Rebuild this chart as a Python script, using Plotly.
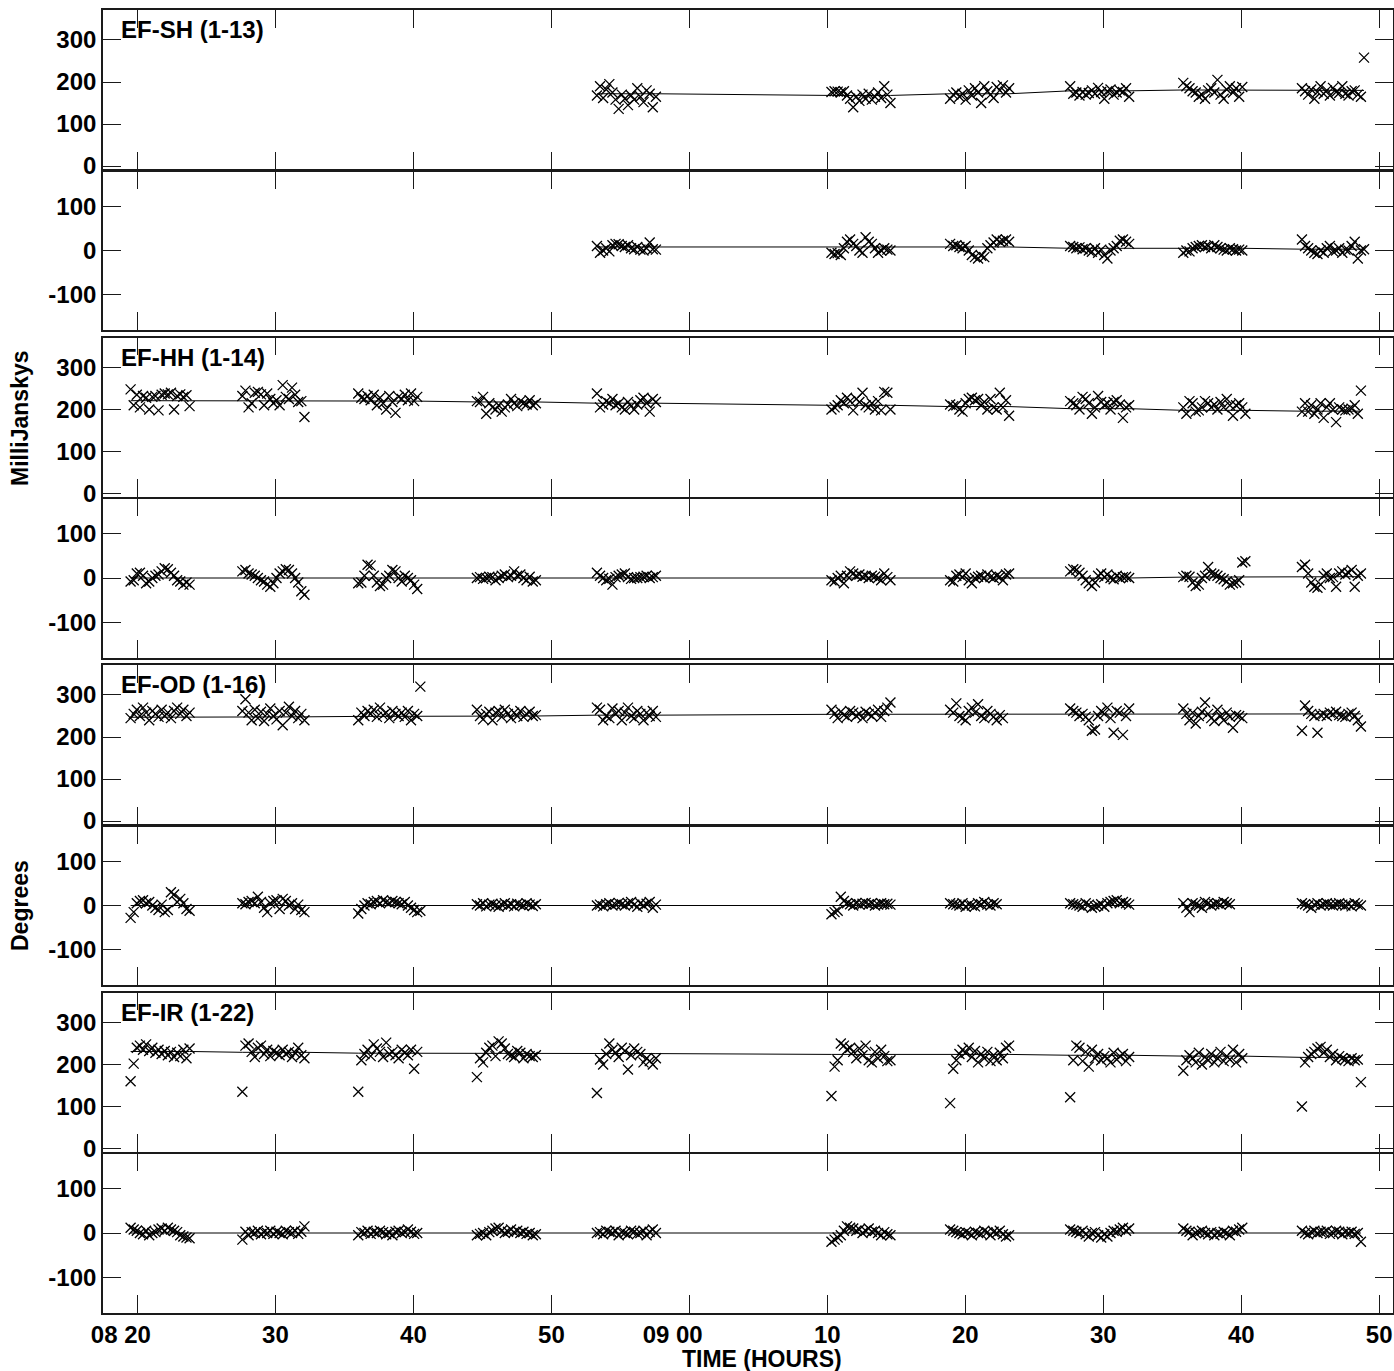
import plotly.graph_objects as go

# ---------------- data ----------------
SCAN_START = [19.5, 27.6, 36.0, 44.6, 53.3, 70.3, 78.9, 87.6, 95.8, 104.4]  # minutes after 08:00
INTEG_MIN = 0.225  # integration time (minutes)

BASELINES = ["EF-SH (1-13)", "EF-HH (1-14)", "EF-OD (1-16)", "EF-IR (1-22)"]

X_TICKS = [20, 30, 40, 50, 60, 70, 80, 90, 100, 110]
X_TICKTEXT = ["08 20", "30", "40", "50", "09 00", "10", "20", "30", "40", "50"]
AMP_TICKS = [0, 100, 200, 300]
AMP_TICKTEXT = ["0", "100", "200", "300"]
PHASE_TICKS = [-100, 0, 100]
PHASE_TICKTEXT = ["-100", "0", "100"]

sh_amp = [[], [], [], [],
    [168, 190, 162, 182, 195, 175, 158, 136, 170, 160, 145, 168, 158, 185, 165, 152, 180, 172, 140, 165],
    [176, 178, 177, 175, 178, 168, 160, 140, 165, 155, 170, 160, 172, 158, 165, 175, 162, 190, 170, 150],
    [160, 170, 175, 165, 172, 158, 180, 168, 185, 175, 150, 190, 178, 170, 162, 188, 180, 192, 175, 185],
    [190, 172, 175, 168, 176, 170, 174, 180, 172, 186, 176, 160, 178, 182, 170, 175, 180, 176, 185, 165],
    [198, 190, 185, 178, 175, 165, 170, 160, 180, 185, 175, 205, 170, 160, 182, 190, 175, 185, 165, 188],
    [185, 178, 170, 182, 160, 176, 190, 172, 180, 168, 186, 176, 174, 190, 172, 168, 178, 180, 170, 165, 258]]
sh_phase = [[], [], [], [],
    [10, -5, 0, 5, -2, 12, 15, 14, 10, 8, 12, 5, 3, 8, 2, 0, 5, 18, 3, 2],
    [-5, -8, -6, -10, 5, 20, 25, 15, 10, 0, -5, 30, 20, 15, 5, -5, 0, 5, 2, 0],
    [15, 10, 12, 8, 5, 10, 0, -10, -15, -18, -12, -15, 5, 12, 18, 25, 20, 22, 25, 20],
    [10, 8, 5, 7, 3, 5, 0, -3, 5, -5, 2, -10, -18, 0, 5, 10, 22, 25, 20, 15],
    [-5, 0, -2, 5, 8, 10, 12, 8, 10, 5, 12, 8, 5, 2, 0, 5, 3, 0, 2, 0],
    [25, 10, 5, 0, -5, -8, 0, -5, 5, 10, -2, 0, 5, -5, 2, 0, 10, 20, -18, 0, 3]]
sh_amp_model = [None, None, None, None, 172, 168, 172, 179, 181, 180]
sh_phase_model = [None, None, None, None, 8, 8, 8, 5, 5, 3]

hh_amp = [
    [248, 210, 235, 205, 232, 228, 200, 230, 232, 198, 235, 238, 236, 240, 200, 232, 236, 230, 234, 208],
    [232, 245, 205, 215, 240, 242, 236, 210, 238, 225, 215, 222, 210, 258, 230, 225, 252, 235, 218, 220, 182],
    [238, 228, 225, 232, 222, 235, 210, 228, 215, 200, 232, 218, 192, 230, 225, 235, 222, 238, 220, 230],
    [220, 218, 230, 190, 215, 205, 200, 210, 195, 205, 212, 225, 215, 208, 220, 215, 212, 222, 210, 215],
    [238, 205, 212, 220, 215, 225, 210, 215, 205, 200, 218, 208, 200, 212, 222, 228, 215, 195, 225, 218],
    [200, 205, 210, 222, 215, 228, 220, 198, 225, 218, 240, 210, 205, 215, 200, 220, 198, 242, 240, 200],
    [212, 208, 210, 200, 195, 215, 225, 228, 222, 225, 210, 218, 200, 225, 205, 200, 240, 205, 222, 185],
    [220, 215, 210, 200, 230, 225, 215, 190, 205, 232, 218, 210, 215, 200, 218, 222, 212, 180, 205, 210],
    [205, 190, 220, 215, 195, 198, 205, 220, 215, 205, 212, 200, 218, 205, 225, 210, 185, 210, 215, 205, 190],
    [195, 215, 195, 210, 190, 200, 215, 180, 205, 215, 200, 170, 205, 200, 198, 200, 202, 210, 190, 245]]
hh_phase = [
    [-8, -5, 10, 12, 5, -12, -8, 0, 5, 8, 15, 22, 20, 12, 5, -5, -8, -15, -10, -15],
    [15, 18, 10, 8, 5, 0, -5, -8, -15, -20, -12, 0, 10, 15, 20, 18, 10, 0, -10, -30, -38],
    [-12, -10, 5, 30, 28, 5, -10, -18, -15, 0, 5, 18, 15, 0, -8, 5, 0, -5, -15, -25],
    [0, 2, -2, 0, 3, 2, -5, 0, 5, 8, 2, 5, 15, 5, 8, 0, -5, 3, -8, -5],
    [12, 5, 0, -5, -2, -15, 2, 5, 8, 10, 2, -2, 0, 0, 2, 3, 5, 0, 2, 5],
    [-5, -8, 0, 5, -12, 5, 15, 10, 5, 8, 3, 5, 0, 5, 3, 0, -5, 10, 2, -5],
    [-5, -8, 5, 8, 2, 10, -5, -12, 0, 3, 5, 0, 8, 2, 0, 5, 3, -5, 8, 10],
    [15, 20, 18, 12, 5, -5, -12, -18, -10, 5, 10, 2, 8, 0, -3, 5, 0, 2, 3, 0],
    [2, 5, 3, -10, -18, -15, 0, 5, 25, 10, 8, 5, 0, -3, -8, -15, -12, -10, -5, 35, 38],
    [25, 30, 10, -10, -20, -22, -15, 5, 10, 0, 2, -20, 10, 15, 8, 12, 18, -20, 5, 10]]
hh_amp_model = [221, 221, 220, 218, 215, 210, 207, 202, 198, 196]
hh_phase_model = [0, 0, 0, 0, 0, 0, 0, 0, 2, 3]

od_amp = [
    [245, 255, 265, 250, 270, 258, 240, 262, 255, 248, 265, 250, 258, 245, 262, 270, 255, 265, 250, 258],
    [262, 290, 258, 240, 265, 245, 260, 238, 255, 268, 250, 242, 262, 228, 258, 272, 250, 262, 245, 255, 240],
    [240, 258, 250, 262, 255, 265, 248, 270, 252, 258, 245, 262, 255, 250, 258, 248, 262, 240, 255, 250, 320],
    [265, 250, 242, 255, 260, 240, 258, 262, 248, 265, 255, 245, 258, 250, 262, 248, 255, 260, 250, 252],
    [270, 265, 240, 250, 245, 268, 255, 262, 240, 258, 270, 250, 245, 262, 255, 240, 258, 250, 262, 248],
    [265, 255, 245, 260, 252, 248, 262, 258, 250, 255, 245, 260, 255, 250, 258, 265, 248, 262, 270, 282],
    [265, 258, 280, 250, 245, 240, 262, 270, 258, 278, 250, 245, 262, 255, 248, 240, 252, 245],
    [268, 262, 258, 250, 255, 248, 240, 215, 218, 250, 262, 255, 270, 245, 210, 262, 258, 205, 250, 268],
    [268, 255, 240, 258, 232, 250, 260, 282, 255, 245, 238, 265, 250, 240, 258, 248, 222, 252, 250, 245],
    [215, 275, 262, 255, 250, 210, 252, 255, 250, 258, 255, 260, 252, 250, 248, 255, 258, 250, 240, 225]]
od_phase = [
    [-28, -15, 5, 10, 12, 5, 8, 0, -5, -10, 2, -15, -10, 30, 25, 8, 15, 5, -8, -12],
    [5, 3, 8, 10, 5, 20, 8, -5, -15, 5, 10, 12, -8, 15, 10, 0, 5, -8, 2, -10, -15],
    [-18, -8, 0, 5, 3, 8, 10, 5, 12, 8, 6, 10, 8, 5, 3, 8, 0, -5, -10, -15, -12],
    [3, 0, 5, -2, 2, 4, 0, -3, 2, 5, 0, 3, -2, 4, 1, 0, 5, 2, -1, 3],
    [0, 2, -2, 3, 5, 0, 2, 6, 3, 0, 5, 8, 2, -3, 5, 0, 4, 8, -5, 2],
    [-20, -15, -12, 20, 10, 5, 3, 0, 5, 2, 4, 6, 3, 5, 0, 2, 5, 3, 4, 2],
    [5, 3, 2, 0, 5, -3, 2, 0, -2, 5, 3, 8, 2, 0, 5, 3],
    [5, 3, 2, 0, -3, 5, 2, -5, -2, 0, 3, -3, 5, 8, 10, 12, 5, 8, 5, 2],
    [5, -5, -15, 5, 3, 0, -5, 8, 5, 0, 3, 5, 2, 8, 5, 3],
    [5, 3, 0, -5, 2, 5, 0, 3, 5, 2, 0, 3, 5, 2, 0, 3, -2, 5, 2, 0]]
od_amp_model = [247, 248, 249, 250, 252, 254, 254, 255, 255, 255]
od_phase_model = [0, 0, 0, 0, 0, 0, 0, 0, 0, 0]

ir_amp = [
    [160, 202, 240, 245, 235, 248, 232, 240, 228, 235, 225, 232, 222, 230, 218, 228, 220, 235, 215, 238],
    [135, 245, 250, 230, 218, 240, 245, 225, 235, 220, 232, 228, 222, 235, 225, 230, 218, 228, 240, 222, 215],
    [135, 210, 225, 235, 220, 248, 238, 230, 218, 252, 225, 230, 222, 215, 235, 228, 222, 235, 190, 230],
    [170, 215, 205, 228, 240, 245, 220, 255, 250, 238, 225, 222, 218, 232, 228, 215, 225, 220, 218, 222],
    [132, 212, 200, 225, 250, 235, 228, 218, 240, 232, 188, 222, 238, 230, 225, 205, 215, 208, 200, 215],
    [125, 195, 210, 250, 245, 235, 240, 230, 215, 238, 222, 245, 210, 205, 230, 215, 235, 220, 208, 210],
    [108, 190, 210, 225, 235, 228, 240, 218, 232, 205, 225, 215, 230, 208, 222, 210, 228, 215, 240, 245],
    [122, 210, 245, 240, 208, 230, 195, 235, 215, 225, 210, 220, 215, 205, 228, 212, 220, 225, 208, 218],
    [185, 210, 222, 215, 205, 228, 200, 218, 210, 225, 205, 215, 230, 208, 220, 212, 235, 205, 225, 215],
    [100, 205, 218, 225, 230, 238, 242, 228, 235, 218, 225, 210, 220, 215, 212, 208, 215, 210, 212, 158]]
ir_phase = [
    [12, 8, 5, 0, -3, 5, -5, 0, 2, 8, 10, 5, 12, 8, 5, 2, -5, -8, -10, -12],
    [-15, 3, -5, 2, 0, 5, -3, 2, 0, 5, -2, 3, 0, -3, 5, 2, 0, 5, -2, 3, 15],
    [-5, 2, 0, 5, -2, 3, 0, 5, 2, -3, 0, -5, 3, 5, 0, 2, 8, 3, -2, 0],
    [-5, -2, 0, -5, 2, 5, 10, 12, 5, 0, 3, 8, 2, 5, 0, 3, -2, 0, -5, -3],
    [0, 2, -3, 5, 3, 0, 5, -5, 2, 0, -3, 5, 3, -2, 0, 5, -5, 3, 8, 0],
    [-20, -15, -10, -5, 5, 15, 12, 10, 5, 8, 0, 5, 10, 3, 5, 0, -5, 2, -3, -5],
    [8, 5, 2, 0, -3, 2, 0, -5, 3, 0, -2, 5, 2, -5, 3, 0, 5, -3, -8, -5],
    [8, 5, 3, 0, 5, -3, -8, 0, 2, -5, -10, -3, -8, 0, 5, 3, 8, 12, 5, 10],
    [10, 5, 3, -5, 0, 2, 5, 0, -3, 2, -5, 0, -2, 3, 0, -5, 5, 3, 8, 12],
    [5, 0, -3, 2, 5, 0, 3, 2, 5, -2, 0, 5, 3, -3, 2, 0, 3, -2, 0, -20]]
ir_amp_model = [231, 229, 227, 226, 226, 224, 224, 222, 220, 217]
ir_phase_model = [0, 0, 0, 0, 0, 0, 0, 0, 0, 0]

# ---------------- build ----------------
PANELS = [
    (sh_amp, sh_amp_model, sh_phase, sh_phase_model),
    (hh_amp, hh_amp_model, hh_phase, hh_phase_model),
    (od_amp, od_amp_model, od_phase, od_phase_model),
    (ir_amp, ir_amp_model, ir_phase, ir_phase_model),
]


def scan_points(values_by_scan):
    xs, ys = [], []
    for start, vals in zip(SCAN_START, values_by_scan):
        for i, v in enumerate(vals):
            xs.append(start + i * INTEG_MIN)
            ys.append(v)
    return xs, ys


def model_points(model, values_by_scan):
    xs, ys = [], []
    for start, vals, m in zip(SCAN_START, values_by_scan, model):
        if m is None or not vals:
            continue
        xs += [start, start + (len(vals) - 1) * INTEG_MIN]
        ys += [m, m]
    return xs, ys


# "HH MM" labels keep the minutes centred on the tick (hour sits to the left)
def pad_label(t):
    return t + "\u00a0" * 5 if " " in t else t


W, H = 1394, 1371
PLOT_L, PLOT_R, PLOT_T, PLOT_B = 103, 1393, 10, 1313   # window pixels
ML, MR, MT, MB = PLOT_L, W - PLOT_R, PLOT_T, H - PLOT_B
PH = PLOT_B - PLOT_T
PW = PLOT_R - PLOT_L


def py(ypx):
    return (PLOT_B - ypx) / PH


def px(xpx):
    return (xpx - PLOT_L) / PW


GROUP_TOPS = [10, 337.5, 665, 992.5]
FONT = "Liberation Sans, Arial, Helvetica, sans-serif"
AX_COL = "#1a1a1a"
TICK_FONT = dict(family=FONT, size=24, color="black", weight="bold")

fig = go.Figure()
layout = dict(
    width=W, height=H,
    margin=dict(l=ML, r=MR, t=MT, b=MB, autoexpand=False),
    paper_bgcolor="white", plot_bgcolor="white",
    showlegend=False,
    font=dict(family=FONT, size=22, color="black"),
)

annotations = []
panel_idx = 0
for g, (amp, amp_m, ph, ph_m) in enumerate(PANELS):
    top = GROUP_TOPS[g]
    for kind in ("amp", "phase"):
        panel_idx += 1
        n = panel_idx
        xa = "x" if n == 1 else f"x{n}"
        ya = "y" if n == 1 else f"y{n}"
        if kind == "amp":
            vals, model = amp, amp_m
            dom = [py(top + 159.5), py(top)]
            rng = [-8.3, 371.4]
            tv, tt = AMP_TICKS, AMP_TICKTEXT
        else:
            vals, model = ph, ph_m
            dom = [py(top + 320), py(top + 161)]
            rng = [-180, 180]
            tv, tt = PHASE_TICKS, PHASE_TICKTEXT
        mx, my = model_points(model, vals)
        fig.add_trace(go.Scatter(x=mx, y=my, mode="lines", xaxis=xa, yaxis=ya,
                                 line=dict(color="black", width=1), hoverinfo="skip"))
        sx, sy = scan_points(vals)
        fig.add_trace(go.Scatter(x=sx, y=sy, mode="markers", xaxis=xa, yaxis=ya,
                                 marker=dict(symbol="x-thin", size=10,
                                             line=dict(width=1.3, color="black"))))
        xkey = "xaxis" if n == 1 else f"xaxis{n}"
        ykey = "yaxis" if n == 1 else f"yaxis{n}"
        layout[xkey] = dict(
            domain=[0, 1], anchor=ya, range=[17.5, 111.0],
            tickvals=X_TICKS, ticktext=[pad_label(t) for t in X_TICKTEXT],
            showticklabels=(n == 8),
            ticks="inside", ticklen=18, tickwidth=1.2, tickcolor=AX_COL,
            showline=True, mirror="ticks", linecolor=AX_COL, linewidth=1.6,
            showgrid=False, zeroline=False,
            tickfont=TICK_FONT, ticklabelstandoff=0,
        )
        if n != 1:
            layout[xkey]["matches"] = "x"
        layout[ykey] = dict(
            domain=dom, anchor=xa, range=rng, tickvals=tv, ticktext=tt,
            ticks="inside", ticklen=18, tickwidth=1.2, tickcolor=AX_COL,
            showline=True, mirror="ticks", linecolor=AX_COL, linewidth=1.6,
            showgrid=False, zeroline=False,
            tickfont=TICK_FONT, ticklabelstandoff=0,
        )
    annotations.append(dict(
        text=f"<b>{BASELINES[g]}</b>", xref="paper", yref="paper",
        x=px(119), y=py(top + 20), xanchor="left", yanchor="middle",
        showarrow=False, font=dict(family=FONT, size=24, color="black")))

annotations.append(dict(text="<b>MilliJanskys</b>", xref="paper", yref="paper",
                        x=px(20), y=py(418), textangle=-90,
                        xanchor="center", yanchor="middle", showarrow=False,
                        font=dict(family=FONT, size=23, color="black")))
annotations.append(dict(text="<b>Degrees</b>", xref="paper", yref="paper",
                        x=px(20), y=py(905), textangle=-90,
                        xanchor="center", yanchor="middle", showarrow=False,
                        font=dict(family=FONT, size=23, color="black")))
annotations.append(dict(text="<b>TIME (HOURS)</b>", xref="paper", yref="paper",
                        x=px(762), y=py(1359),
                        xanchor="center", yanchor="middle", showarrow=False,
                        font=dict(family=FONT, size=23, color="black")))
layout["annotations"] = annotations

fig.update_layout(**layout)
fig.write_html(
    "out.html",
    config={"displayModeBar": False},
    post_script="document.body.style.margin='0';document.body.style.overflow='hidden';",
)
